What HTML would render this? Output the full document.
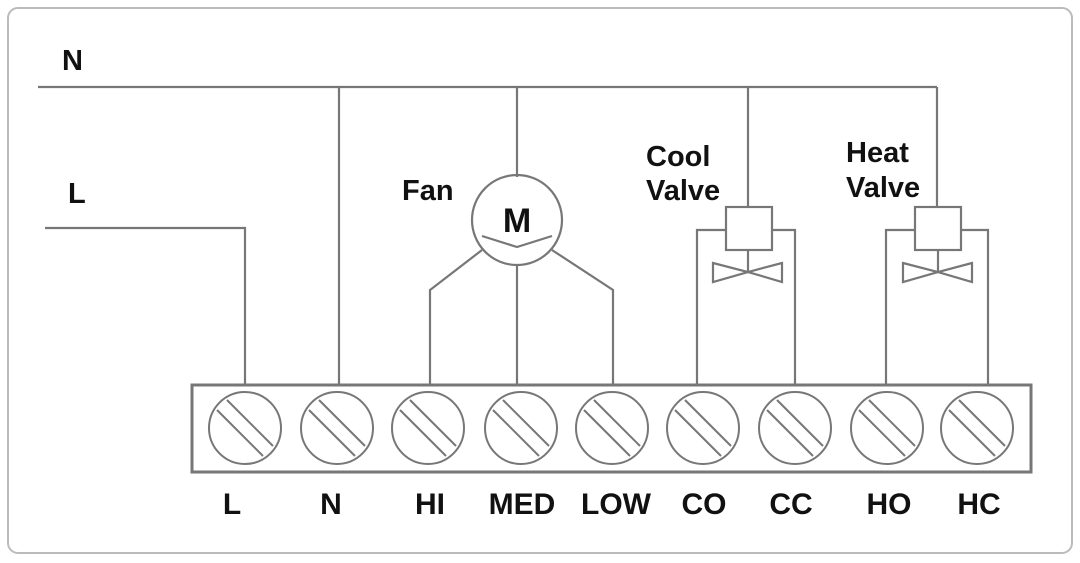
<!DOCTYPE html>
<html><head><style>
body{margin:0;background:#fff}
svg{display:block}
text{font-family:"Liberation Sans",sans-serif;fill:#111;font-weight:bold}
</style></head><body>
<svg width="1080" height="563" viewBox="0 0 1080 563">
<defs>
<g id="s"><circle cx="0" cy="0" r="36"/><line x1="-28" y1="-18" x2="18" y2="28"/><line x1="-18" y1="-28" x2="28" y2="18"/></g>
</defs>
<rect x="8" y="8" width="1064" height="545" rx="10" fill="#fff" stroke="#bbb" stroke-width="2"/>
<g stroke="#777" stroke-width="2.2" fill="none">
<polyline points="38,87 937,87"/>
<polyline points="45,228 245,228 245,385"/>
<line x1="339" y1="87" x2="339" y2="385"/>
<line x1="517" y1="87" x2="517" y2="177"/>
<line x1="748" y1="87" x2="748" y2="207"/>
<line x1="937" y1="87" x2="937" y2="207"/>
<circle cx="517" cy="220" r="45"/>
<polyline points="482,236 517,247 552,236" />
<polyline points="482,250 430,290 430,385"/>
<line x1="517" y1="265" x2="517" y2="385"/>
<polyline points="552,250 613,290 613,385"/>
<rect x="726" y="207" width="46" height="43"/>
<polyline points="726,230 697,230 697,385"/>
<polyline points="772,230 795,230 795,385"/>
<line x1="748" y1="250" x2="748" y2="272"/>
<polygon points="713,263 748,272 713,282"/>
<polygon points="782,263 748,272 782,282"/>
<rect x="915" y="207" width="46" height="43"/>
<polyline points="915,230 886,230 886,385"/>
<polyline points="961,230 988,230 988,385"/>
<line x1="938" y1="250" x2="938" y2="272"/>
<polygon points="903,263 938,272 903,282"/>
<polygon points="972,263 938,272 972,282"/>
<rect x="192" y="385" width="839" height="87" stroke-width="3"/>
</g>
<g stroke="#777" stroke-width="2" fill="none">
<use href="#s" x="245" y="428"/><use href="#s" x="337" y="428"/><use href="#s" x="428" y="428"/>
<use href="#s" x="521" y="428"/><use href="#s" x="612" y="428"/><use href="#s" x="703" y="428"/>
<use href="#s" x="795" y="428"/><use href="#s" x="887" y="428"/><use href="#s" x="977" y="428"/>
</g>
<text x="517" y="232" font-size="34" text-anchor="middle">M</text>
<g font-size="29">
<text x="62" y="70">N</text>
<text x="68" y="203">L</text>
<text x="402" y="200">Fan</text>
<text x="646" y="166">Cool</text>
<text x="646" y="200">Valve</text>
<text x="846" y="162">Heat</text>
<text x="846" y="197">Valve</text>
</g>
<g font-size="30" text-anchor="middle">
<text x="232" y="514">L</text><text x="331" y="514">N</text><text x="430" y="514">HI</text>
<text x="522" y="514">MED</text><text x="616" y="514">LOW</text><text x="704" y="514">CO</text>
<text x="791" y="514">CC</text><text x="889" y="514">HO</text><text x="979" y="514">HC</text>
</g>
</svg>
</body></html>
